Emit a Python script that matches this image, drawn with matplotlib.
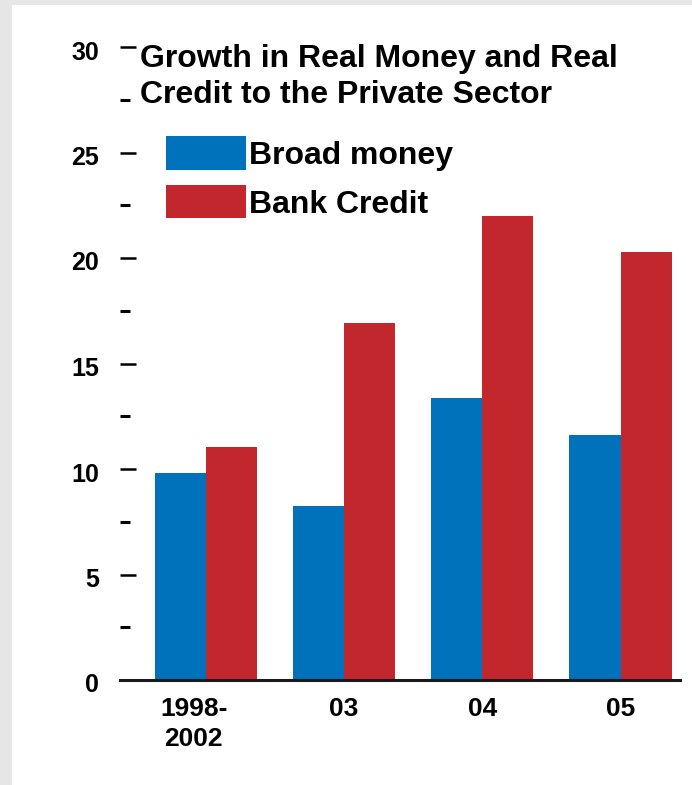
import matplotlib.pyplot as plt
import numpy as np
from matplotlib.patches import Rectangle
from matplotlib.transforms import ScaledTranslation

plt.rcParams['font.family'] = ['Liberation Sans', 'DejaVu Sans']

periods = ['1998-\n2002', '03', '04', '05']
broad_money = [9.8, 8.25, 13.35, 11.6]
bank_credit = [11.05, 16.9, 22.0, 20.3]
yticks = [0, 5, 10, 15, 20, 25, 30]

blue = '#0072BC'
red = '#C1272D'

fig = plt.figure(figsize=(6.92, 7.85), dpi=100, facecolor='#E6E6E6')
# white panel over the grey frame
fig.patches.append(Rectangle((12 / 692, 0), 1, 1 - 5 / 785, transform=fig.transFigure,
                             facecolor='white', edgecolor='none', zorder=-10))

ax = fig.add_axes([120 / 692, 1 - 680 / 785, 560 / 692, 633 / 785])
ax.set_facecolor('none')
ax.set_zorder(1)

x = np.arange(len(periods))
w = 0.37
b1 = ax.bar(x - w / 2, broad_money, w, color=blue, label='Broad money', zorder=2)
b2 = ax.bar(x + w / 2, bank_credit, w, color=red, label='Bank Credit', zorder=2)

ax.set_xlim(-0.62, 3.43)
ax.set_ylim(0, 30)

for s in ['top', 'right', 'left']:
    ax.spines[s].set_visible(False)
ax.spines['bottom'].set_linewidth(2.2)
ax.spines['bottom'].set_color('#1a1a1a')

ax.set_yticks(yticks)
ax.set_yticks(np.arange(2.5, 30, 5), minor=True)
ax.tick_params(axis='y', which='major', direction='in', length=11.5, width=1.8,
               pad=15, labelsize=18)
ax.tick_params(axis='y', which='minor', direction='in', length=7, width=2.2)
for lab in ax.get_yticklabels():
    lab.set_fontweight('bold')
    # labels sit a little below their ticks in the original
    lab.set_transform(lab.get_transform() + ScaledTranslation(0, -0.03, fig.dpi_scale_trans))

ax.set_xticks(x)
ax.set_xticklabels(periods, fontsize=19, fontweight='bold', linespacing=1.33)
ax.tick_params(axis='x', length=0, pad=12)
first = ax.get_xticklabels()[0]
first.set_transform(first.get_transform() + ScaledTranslation(-0.12, 0, fig.dpi_scale_trans))

ax.text(0.036, 1.005, 'Growth in Real Money and Real\nCredit to the Private Sector',
        transform=ax.transAxes, ha='left', va='top', fontsize=23, fontweight='bold',
        linespacing=1.25)

ax.legend(handles=[b1, b2], loc='upper left', bbox_to_anchor=(0.082, 0.859),
          borderaxespad=0, borderpad=0, frameon=False, prop={'size': 23, 'weight': 'bold'},
          handlelength=2.5, handleheight=1.23, handletextpad=0.1, labelspacing=0.45)

fig.savefig('out.png', dpi=100, facecolor=fig.get_facecolor())
